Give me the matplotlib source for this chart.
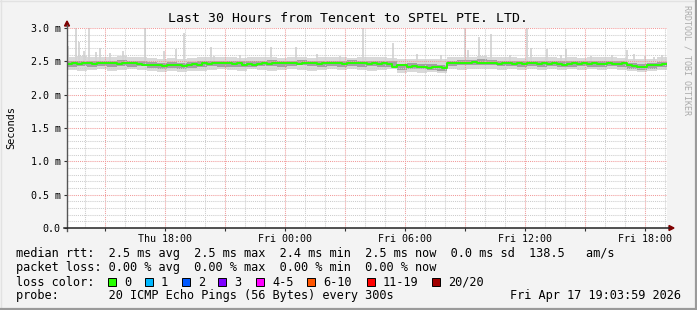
import numpy as np
import pandas as pd
import matplotlib
matplotlib.use('Agg')
import matplotlib.pyplot as plt
import matplotlib.dates as mdates
from matplotlib.ticker import MultipleLocator, FuncFormatter, NullFormatter
from matplotlib.patches import Rectangle, Polygon
from matplotlib.lines import Line2D

# ---------------- data (ms) ----------------
start = pd.Timestamp('2026-04-16 13:06')
end = pd.Timestamp('2026-04-17 19:06')

# median rtt every 15 minutes
median = [2.46, 2.47, 2.46, 2.47, 2.47, 2.46, 2.47, 2.47, 2.48, 2.47, 2.46, 2.47, 2.48, 2.47, 2.46,
          2.45, 2.44, 2.45, 2.44, 2.43, 2.44, 2.45, 2.44, 2.43, 2.45, 2.46, 2.45,
          2.47, 2.46, 2.47, 2.47, 2.48, 2.47, 2.46, 2.47, 2.45, 2.46, 2.45, 2.46, 2.47, 2.46,
          2.47, 2.48, 2.47, 2.48, 2.47, 2.46, 2.47, 2.48, 2.47, 2.46, 2.47, 2.47, 2.48, 2.47, 2.46,
          2.47, 2.48, 2.47, 2.47, 2.46, 2.47, 2.46, 2.47, 2.46,
          2.41, 2.44, 2.45, 2.42, 2.43, 2.42, 2.42, 2.40, 2.42, 2.41, 2.40,
          2.47, 2.47, 2.48, 2.47, 2.48, 2.49, 2.48, 2.47, 2.48, 2.47, 2.46, 2.47, 2.47, 2.46, 2.47,
          2.46, 2.47, 2.47, 2.46, 2.47, 2.46, 2.47, 2.46, 2.45, 2.46, 2.47, 2.46, 2.47, 2.46, 2.47,
          2.46, 2.46, 2.47, 2.46, 2.46, 2.47,
          2.44, 2.43, 2.41, 2.42, 2.45, 2.45, 2.44, 2.46]

# smoke bands every 30 minutes
outer_hi = [2.57, 2.58, 2.56, 2.57, 2.56, 2.58, 2.56, 2.57,
            2.55, 2.54, 2.55, 2.54, 2.55, 2.56,
            2.56, 2.57, 2.56, 2.55, 2.56, 2.57, 2.56, 2.55, 2.57, 2.56, 2.55, 2.56, 2.57, 2.56, 2.55, 2.56, 2.57, 2.56, 2.55,
            2.54, 2.53, 2.54, 2.53, 2.54,
            2.57, 2.56, 2.57, 2.58, 2.56, 2.57, 2.56, 2.55, 2.56, 2.57, 2.56, 2.55, 2.56, 2.55, 2.56, 2.57, 2.56, 2.55,
            2.54, 2.53, 2.54, 2.56]
outer_lo = [2.37, 2.36, 2.37, 2.38, 2.36, 2.37, 2.38, 2.37,
            2.35, 2.34, 2.35, 2.34, 2.35, 2.36,
            2.37, 2.38, 2.37, 2.36, 2.38, 2.37, 2.36, 2.37, 2.38, 2.37, 2.36, 2.37, 2.38, 2.37, 2.38, 2.37, 2.36, 2.37, 2.38,
            2.33, 2.34, 2.33, 2.34, 2.33,
            2.38, 2.37, 2.38, 2.39, 2.38, 2.37, 2.38, 2.37, 2.38, 2.37, 2.38, 2.37, 2.38, 2.37, 2.38, 2.37, 2.38, 2.37,
            2.35, 2.34, 2.35, 2.37]
inner_hi = [2.51, 2.51, 2.50, 2.51, 2.51, 2.52, 2.51, 2.50,
            2.49, 2.48, 2.49, 2.48, 2.49, 2.50,
            2.51, 2.51, 2.50, 2.50, 2.51, 2.51, 2.52, 2.51, 2.51, 2.52, 2.51, 2.50, 2.51, 2.51, 2.52, 2.51, 2.50, 2.51, 2.51,
            2.46, 2.47, 2.46, 2.46, 2.45,
            2.51, 2.52, 2.52, 2.53, 2.52, 2.51, 2.51, 2.50, 2.51, 2.51, 2.50, 2.51, 2.50, 2.51, 2.51, 2.50, 2.51, 2.50,
            2.47, 2.46, 2.48, 2.49]
inner_lo = [2.42, 2.43, 2.42, 2.43, 2.42, 2.43, 2.42, 2.43,
            2.40, 2.39, 2.40, 2.39, 2.40, 2.41,
            2.43, 2.42, 2.42, 2.41, 2.42, 2.43, 2.43, 2.42, 2.43, 2.44, 2.43, 2.42, 2.43, 2.42, 2.43, 2.42, 2.43, 2.42, 2.42,
            2.37, 2.38, 2.38, 2.37, 2.36,
            2.43, 2.44, 2.44, 2.45, 2.44, 2.43, 2.43, 2.42, 2.43, 2.42, 2.43, 2.42, 2.42, 2.43, 2.42, 2.42, 2.43, 2.42,
            2.38, 2.37, 2.39, 2.41]

# individual high pings (hours after start, ms)
spike_hours = [0.05, 0.45, 0.6, 0.85, 1.1, 1.45, 1.65, 2.15, 2.8, 3.9, 4.85, 5.45, 5.85, 7.2, 7.35, 8.65,
               10.2, 11.45, 12.5, 13.65, 14.8, 16.3, 17.5, 18.7, 19.9, 20.05, 20.6, 21.2, 22.15, 23.0,
               23.2, 24.0, 24.7, 24.95, 26.2, 27.25, 28.0, 28.35, 28.9, 29.35, 29.75]
spike_vals = [2.73, 3.0, 2.79, 2.65, 3.0, 2.64, 2.70, 2.62, 2.66, 3.0, 2.65, 2.68, 2.92, 2.71, 2.58, 2.60,
              2.71, 2.71, 2.61, 2.58, 3.0, 2.78, 2.61, 2.60, 3.0, 2.67, 2.86, 2.91, 2.60, 3.0,
              2.70, 2.68, 2.60, 2.68, 2.58, 2.60, 2.67, 2.61, 2.58, 2.56, 2.60]

y_ticks = [0.0, 0.5, 1.0, 1.5, 2.0, 2.5, 3.0]

loss_labels = ['0', '1', '2', '3', '4-5', '6-10', '11-19', '20/20']
loss_colors = ['#26ff00', '#00b8ff', '#0059ff', '#7e00ff', '#ff00ff', '#ff5500', '#ff0000', '#a00000']

legend_lines = [
    'median rtt:  2.5 ms avg  2.5 ms max  2.4 ms min  2.5 ms now  0.0 ms sd  138.5   am/s',
    'packet loss: 0.00 % avg  0.00 % max  0.00 % min  0.00 % now',
    'loss color:',
    'probe:       20 ICMP Echo Pings (56 Bytes) every 300s',
]
stamp = 'Fri Apr 17 19:03:59 2026'
title = 'Last 30 Hours from Tencent to SPTEL PTE. LTD.'

# ---------------- figure ----------------
W, H = 697, 310
MONO = 'DejaVu Sans Mono'
plt.rcParams['font.family'] = MONO
fig = plt.figure(figsize=(W / 100, H / 100), dpi=100, facecolor='#f3f3f3')


def fx(x):
    return x / W


def fy(y):
    return 1 - y / H


ax = fig.add_axes([fx(67), fy(228), 600 / W, 200 / H])
ax.set_facecolor('white')

t15 = pd.date_range(start, periods=len(median) + 1, freq='15min')
t30 = pd.date_range(start, periods=len(outer_hi) + 1, freq='30min')


def ext(v):
    return np.r_[np.asarray(v, float), v[-1]]


ax.fill_between(t30, ext(outer_lo), ext(outer_hi), step='post', color='#d9d9d9', lw=0, zorder=1)
spike_t = [start + pd.Timedelta(hours=h) for h in spike_hours]
ax.vlines(spike_t, 2.5, spike_vals, colors='#d4d4d4', lw=1.3, zorder=1)
ax.fill_between(t30, ext(inner_lo), ext(inner_hi), step='post', color='#a2a2a2', lw=0, zorder=1.2)
ax.step(t15, ext(median), where='post', color=loss_colors[0], lw=1.4, zorder=3)

ax.set_xlim(start, end)
ax.set_ylim(0, 3.0)

ax.yaxis.set_major_locator(MultipleLocator(0.5))
ax.yaxis.set_minor_locator(MultipleLocator(0.1))
ax.yaxis.set_major_formatter(FuncFormatter(lambda v, p: '0.0' if abs(v) < 1e-9 else f'{v:.1f} m'))
ax.set_yticks(y_ticks)

ax.xaxis.set_major_locator(mdates.HourLocator(byhour=range(0, 24, 3)))
ax.xaxis.set_minor_locator(mdates.HourLocator())


def xfmt(v, p):
    d = mdates.num2date(round(v * 24) / 24)
    return d.strftime('%a %H:%M') if d.hour % 6 == 0 else ''


ax.xaxis.set_major_formatter(FuncFormatter(xfmt))
ax.xaxis.set_minor_formatter(NullFormatter())

ax.set_axisbelow(False)
ax.grid(which='minor', color='#cccccc', lw=0.75, ls=(0, (1, 1)))
ax.grid(which='major', color='#f19a9a', lw=0.75, ls=(0, (1, 1)))
for gl in ax.get_xgridlines() + ax.get_ygridlines():
    gl.set_zorder(2)

ax.tick_params(which='major', length=2.5, width=0.8, color='#333333', labelsize=7.2, pad=2)
ax.tick_params(which='minor', length=0)
for s in ax.spines.values():
    s.set_visible(False)

# axes lines and arrows
fig.add_artist(Line2D([fx(67), fx(67)], [fy(231), fy(25)], color='#555555', lw=1.0))
fig.add_artist(Line2D([fx(64), fx(669)], [fy(228), fy(228)], color='#222222', lw=1.1))
fig.add_artist(Polygon([[fx(64.5), fy(26)], [fx(69.5), fy(26)], [fx(67), fy(21)]],
                       closed=True, color='#7f0000', transform=fig.transFigure))
fig.add_artist(Polygon([[fx(669), fy(225.5)], [fx(669), fy(230.5)], [fx(674), fy(228)]],
                       closed=True, color='#7f0000', transform=fig.transFigure))

# texts
fig.text(fx(348), fy(19), title, ha='center', va='center', fontsize=9.5, family=MONO)
fig.text(fx(11), fy(128), 'Seconds', ha='center', va='center', rotation=90, fontsize=7.4, family=MONO)
fig.text(fx(687), fy(5), 'RRDTOOL / TOBI OETIKER', ha='center', va='top', rotation=-90,
         fontsize=6, color='#aaaaaa', family=MONO)

for i, line in enumerate(legend_lines):
    fig.text(fx(16), fy(254 + 14 * i), line, ha='left', va='center', fontsize=8.55, family=MONO)
fig.text(fx(681), fy(296), stamp, ha='right', va='center', fontsize=8.55, family=MONO)

box_x = [108, 145, 182, 218, 256, 307, 367, 432]
for bx, lab, col in zip(box_x, loss_labels, loss_colors):
    fig.add_artist(Rectangle((fx(bx), fy(286)), 8 / W, 8 / H, transform=fig.transFigure,
                             facecolor=col, edgecolor='black', lw=0.7))
    fig.text(fx(bx + 16), fy(282), lab, ha='left', va='center', fontsize=8.55, family=MONO)

# frame shading
fig.add_artist(Line2D([0, 1], [fy(0.5), fy(0.5)], color='#e2e2e2', lw=1))
fig.add_artist(Line2D([fx(0.5), fx(0.5)], [0, 1], color='#e2e2e2', lw=1))
fig.add_artist(Line2D([0, 1], [fy(308.5), fy(308.5)], color='#9a9a9a', lw=1.6))
fig.add_artist(Line2D([fx(695.5), fx(695.5)], [0, 1], color='#9a9a9a', lw=1.6))

fig.savefig('out.png', dpi=100, facecolor=fig.get_facecolor())
